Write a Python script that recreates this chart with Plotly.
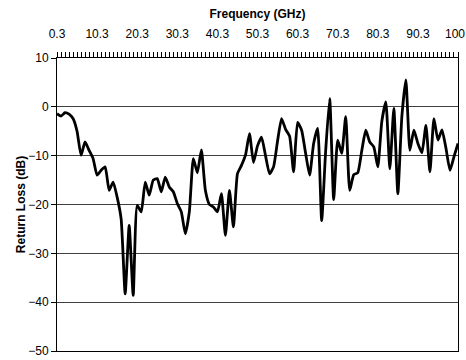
import plotly.graph_objects as go

freq = ["0.3", "1.3", "2.3", "3.3", "4.3", "5.3", "6.3", "7.3", "8.3", "9.3",
        "10.3", "11.3", "12.3", "13.3", "14.3", "15.3", "16.3", "17.3", "18.3", "19.3",
        "20.3", "21.3", "22.3", "23.3", "24.3", "25.3", "26.3", "27.3", "28.3", "29.3",
        "30.3", "31.3", "32.3", "33.3", "34.3", "35.3", "36.3", "37.3", "38.3", "39.3",
        "40.3", "41.3", "42.3", "43.3", "44.3", "45.3", "46.3", "47.3", "48.3", "49.3",
        "50.3", "51.3", "52.3", "53.3", "54.3", "55.3", "56.3", "57.3", "58.3", "59.3",
        "60.3", "61.3", "62.3", "63.3", "64.3", "65.3", "66.3", "67.3", "68.3", "69.3",
        "70.3", "71.3", "72.3", "73.3", "74.3", "75.3", "76.3", "77.3", "78.3", "79.3",
        "80.3", "81.3", "82.3", "83.3", "84.3", "85.3", "86.3", "87.3", "88.3", "89.3",
        "90.3", "91.3", "92.3", "93.3", "94.3", "95.3", "96.3", "97.3", "98.3", "99.3",
        "100"]

return_loss = [-1.4, -1.9, -1.2, -1.5, -2.4, -5.0, -9.9, -7.2, -8.9, -10.6,
               -14.0, -13.0, -12.3, -17.1, -15.4, -18.5, -23.0, -38.3, -24.3, -38.6,
               -20.2, -21.5, -15.4, -18.1, -15.0, -14.7, -17.4, -14.4, -16.4, -17.4,
               -19.8, -21.5, -26.0, -21.5, -10.6, -13.5, -8.8, -17.1, -20.0, -20.5,
               -21.5, -17.8, -26.3, -17.1, -24.6, -13.7, -12.0, -9.9, -5.5, -11.4,
               -8.0, -6.2, -10.0, -13.7, -12.3, -7.0, -2.4, -4.6, -6.0, -13.3,
               -3.2, -4.8, -9.5, -14.0, -7.5, -4.4, -23.3, -9.0, 1.7, -19.0,
               -6.8, -9.5, -2.0, -17.1, -13.9, -13.5, -9.0, -4.8, -7.2, -8.2,
               -12.3, -3.0, 1.0, -12.7, -0.3, -17.8, -2.0, 5.5, -8.9, -4.8,
               -7.5, -9.4, -3.8, -13.3, -2.4, -6.8, -4.7, -8.5, -13.0, -10.2,
               -7.5]

x_labels = ["0.3", "10.3", "20.3", "30.3", "40.3", "50.3", "60.3", "70.3", "80.3", "90.3", "100"]
y_ticks = [10, 0, -10, -20, -30, -40, -50]

# every label except the last one is a tick label; the last one is placed as
# a label anchored on its category so that it stays inside the page
ticktext = [f if f in x_labels[:-1] else "" for f in freq]

FONT = "Liberation Sans, Arial, sans-serif"

fig = go.Figure()
fig.add_trace(go.Scatter(
    x=freq, y=return_loss, mode="lines",
    line=dict(color="black", width=2.8, shape="spline", smoothing=0.5),
    showlegend=False, hoverinfo="skip",
))

fig.update_layout(
    width=466, height=360,
    margin=dict(l=57, r=8, t=58, b=9),
    paper_bgcolor="white", plot_bgcolor="white",
    font=dict(family=FONT, size=12, color="black"),
)

fig.add_annotation(
    x=x_labels[-1], xref="x", y=1, yref="paper",
    text=x_labels[-1], showarrow=False,
    xanchor="center", yanchor="bottom", xshift=-3, yshift=15,
    font=dict(family=FONT, size=12, color="black"),
)

fig.update_xaxes(
    type="category", side="top", range=[0, len(freq) - 1],
    tickmode="array", tickvals=freq, ticktext=ticktext,
    ticks="outside", ticklen=5, tickwidth=1, tickcolor="black",
    ticklabelstandoff=9,
    showline=True, linecolor="black", linewidth=1, mirror=True,
    showgrid=False, zeroline=False, automargin=False,
    tickangle=0,
    tickfont=dict(family=FONT, size=12),
    title=dict(text="<b>Frequency (GHz)</b>", font=dict(family=FONT, size=12), standoff=6),
)

fig.update_yaxes(
    range=[-50, 10], tickmode="array", tickvals=y_ticks,
    ticks="outside", ticklen=5, tickwidth=1, tickcolor="black",
    showline=True, linecolor="black", linewidth=1, mirror=True,
    showgrid=True, gridcolor="#404040", gridwidth=1, zeroline=False,
    automargin=False,
    tickfont=dict(family=FONT, size=12),
    title=dict(text="<b>Return Loss (dB)</b>", font=dict(family=FONT, size=12), standoff=0),
)

fig.write_html("out.html")
